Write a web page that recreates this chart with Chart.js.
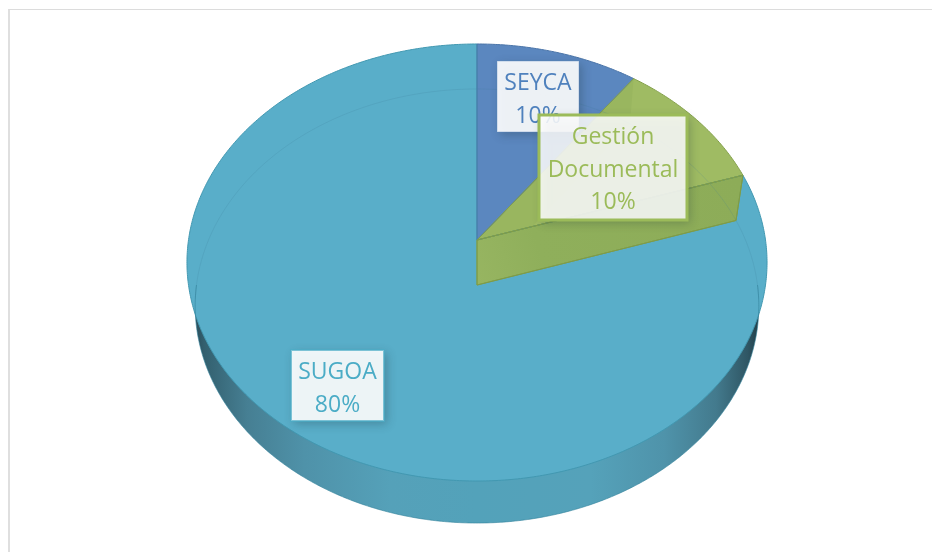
<!DOCTYPE html>
<html><head><meta charset="utf-8">
<style>
html,body{margin:0;padding:0;background:#fff;width:932px;height:552px;overflow:hidden}
#wrap{position:absolute;left:0;top:0;width:932px;height:552px}
#frame{position:absolute;left:8px;top:9px;right:0;bottom:0;border-left:2px solid #dfdfdf;border-top:1px solid #dcdcdc}
canvas{position:absolute;left:0;top:0}
</style>
<script src="https://cdn.jsdelivr.net/npm/chart.js@4/dist/chart.umd.min.js"></script>
</head><body>
<div id="wrap"><div id="frame"></div><canvas id="c" width="932" height="552"></canvas></div>
<script>
const categories = ['SEYCA', 'Gestión Documental', 'SUGOA'];
const shares = [10, 10, 80];
const labelLines = [['SEYCA', '10%'], ['Gestión', 'Documental', '10%'], ['SUGOA', '80%']];
const sliceFill = ['#5b87bf', '#9fbb63', '#59aec9'];
const sliceEdge = ['#4a74a8', '#83a04a', '#4298b1'];
const textColors = ['#4f81bd', '#9bbb59', '#4bacc6'];

// Perspective view of the pie, applied to the angles computed by Chart.js
const view = {
  cx: 477,
  top: {y: 240, k: 0.103, rx: 288.5, ry: 216.2},
  low: {y: 285, k: 0.0968, rx: 280.5, ry: 215}
};
function project(a, r, bottom) {
  const f = bottom ? view.low : view.top;
  const u = Math.cos(a) * r, v = Math.sin(a) * r, d = 1 - f.k * v;
  return [view.cx + f.rx * u / d, f.y + f.ry * v / d];
}
function rim(ctx, a0, a1, bottom) {
  const n = Math.max(2, Math.ceil(Math.abs(a1 - a0) / 0.01));
  for (let i = 0; i <= n; i++) {
    const p = project(a0 + (a1 - a0) * i / n, 1, bottom);
    ctx.lineTo(p[0], p[1]);
  }
}
function wedge(ctx, a0, a1, bottom) {
  const o = project(0, 0, bottom);
  ctx.beginPath(); ctx.moveTo(o[0], o[1]); rim(ctx, a0, a1, bottom); ctx.closePath();
}
function wall(ctx, a) {
  const o = project(0, 0, false), p = project(a, 1, false), q = project(a, 1, true), b = project(0, 0, true);
  ctx.beginPath(); ctx.moveTo(o[0], o[1]); ctx.lineTo(p[0], p[1]); ctx.lineTo(q[0], q[1]); ctx.lineTo(b[0], b[1]); ctx.closePath();
}
const boxes = [
  {x: 497, y: 61, w: 82, h: 71, border: 'rgba(91,135,191,.4)', lw: 1, alpha: .9},
  {x: 539, y: 115, w: 148, h: 105, border: '#9bbb59', lw: 3, alpha: .85},
  {x: 291, y: 350, w: 93, h: 71, border: 'rgba(75,172,198,.7)', lw: 2, alpha: .9}
];
const pie3d = {
  id: 'pie3d',
  beforeDatasetsDraw(chart) {
    const ctx = chart.ctx, arcs = chart.getDatasetMeta(0).data;
    ctx.save();
    // side wall
    const g = ctx.createLinearGradient(190, 0, 762, 0);
    [[0,'#27434f'],[.025,'#33606f'],[.1,'#467f93'],[.2,'#4f92a9'],[.35,'#55a1b9'],[.5,'#53a2ba'],[.7,'#55a2ba'],[.83,'#4f93aa'],[.92,'#437a8d'],[.975,'#2f5664'],[1,'#1f3842']]
      .forEach(s => g.addColorStop(s[0], s[1]));
    ctx.beginPath(); rim(ctx, 0, Math.PI * 2, true); ctx.closePath();
    ctx.fillStyle = g; ctx.fill();
    // top faces: SUGOA, then SEYCA, then Gestión Documental
    [2, 0, 1].forEach(i => {
      const a = arcs[i];
      wedge(ctx, a.startAngle, a.endAngle, false);
      ctx.fillStyle = sliceFill[i]; ctx.fill();
    });
    // see-through walls of the green slice
    const g1 = arcs[1];
    wall(ctx, g1.startAngle); ctx.fillStyle = 'rgba(125,155,75,.16)'; ctx.fill();
    wall(ctx, g1.endAngle);
    const gw = ctx.createLinearGradient(477, 285, 743, 200);
    gw.addColorStop(0, '#97b561'); gw.addColorStop(.25, '#8faf5b'); gw.addColorStop(1, '#8dac58');
    ctx.fillStyle = gw; ctx.fill();
    ctx.strokeStyle = '#7f9c48'; ctx.lineWidth = 1; ctx.stroke();
    // faint far rim of the lower disc
    ctx.beginPath(); rim(ctx, Math.PI * 0.98, Math.PI * 2.02, true);
    ctx.strokeStyle = 'rgba(60,120,150,.18)'; ctx.lineWidth = 1; ctx.stroke();
    // edges
    [2, 0, 1].forEach(i => {
      const a = arcs[i];
      wedge(ctx, a.startAngle, a.endAngle, false);
      ctx.strokeStyle = sliceEdge[i]; ctx.lineWidth = 1; ctx.stroke();
    });
    wall(ctx, g1.endAngle); ctx.strokeStyle = '#7f9c48'; ctx.stroke();
    ctx.beginPath(); rim(ctx, 0, Math.PI, true);
    ctx.strokeStyle = 'rgba(50,130,155,.6)'; ctx.stroke();
    ctx.restore();
    return false;
  },
  afterDraw(chart) {
    const ctx = chart.ctx;
    boxes.forEach((b, i) => {
      ctx.save();
      ctx.shadowColor = 'rgba(30,50,60,.32)'; ctx.shadowBlur = 9; ctx.shadowOffsetX = 3; ctx.shadowOffsetY = 3;
      ctx.fillStyle = 'rgba(255,255,255,' + b.alpha + ')';
      ctx.fillRect(b.x, b.y, b.w, b.h);
      ctx.restore();
      ctx.save();
      ctx.strokeStyle = b.border; ctx.lineWidth = b.lw;
      ctx.strokeRect(b.x, b.y, b.w, b.h);
      ctx.fillStyle = textColors[i];
      ctx.font = '23px "Open Sans", sans-serif';
      ctx.textAlign = 'center'; ctx.textBaseline = 'alphabetic';
      labelLines[i].forEach((t, j) => ctx.fillText(t, b.x + b.w / 2, b.y + 29 + j * 32.5));
      ctx.restore();
    });
  }
};
new Chart(document.getElementById('c'), {
  type: 'pie',
  data: {labels: categories, datasets: [{data: shares, backgroundColor: sliceFill, borderWidth: 0}]},
  options: {responsive: false, animation: false, plugins: {legend: {display: false}, tooltip: {enabled: false}}},
  plugins: [pie3d]
});
</script>
</body></html>
